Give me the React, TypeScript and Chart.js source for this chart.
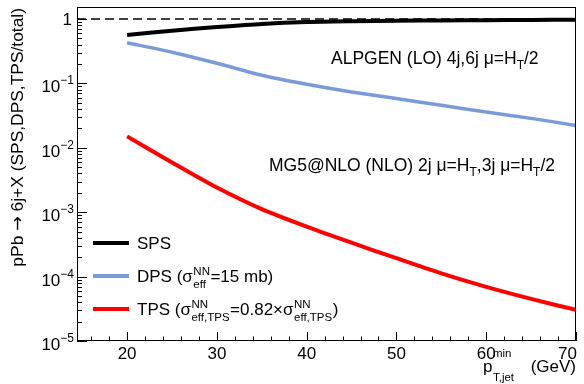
import React, { useEffect, useRef } from "react";
import { Chart, registerables } from "chart.js";

Chart.register(...registerables);

const xValues = [20, 25, 30, 35, 40, 45, 50, 55, 60, 65, 70];
const spsValues = [0.565, 0.66, 0.75, 0.84, 0.9, 0.925, 0.94, 0.953, 0.963, 0.971, 0.977];
const dpsValues = [0.428, 0.306, 0.206, 0.134, 0.0972, 0.0737, 0.0582, 0.0457, 0.036, 0.0287, 0.0223];
const tpsValues = [0.01506, 0.00593, 0.00242, 0.001117, 0.000597, 0.000336, 0.000193, 0.0001125, 0.0000693, 0.0000451, 0.0000304];
const refLineX = [14.42, 70];
const refLineY = [1, 1];

const xMajorTicks = [20, 30, 40, 50, 60, 70];
const yMajorTicks = [1, 0.1, 0.01, 0.001, 0.0001, 0.00001];
const yTickExponents = ["", "\u22121", "\u22122", "\u22123", "\u22124", "\u22125"];

const FONT = "'Liberation Sans', Arial, Helvetica, sans-serif";

type Part = { t: string; s: number; dy: number; f?: string };

function richWidth(ctx: CanvasRenderingContext2D, parts: Part[]) {
  let w = 0;
  for (const p of parts) {
    ctx.font = `${p.s}px ${p.f || FONT}`;
    w += ctx.measureText(p.t).width;
  }
  return w;
}

function drawRich(ctx: CanvasRenderingContext2D, x: number, y: number, parts: Part[], align: "left" | "right" | "center" = "left") {
  const w = richWidth(ctx, parts);
  let cx = align === "left" ? x : align === "right" ? x - w : x - w / 2;
  ctx.textAlign = "left";
  ctx.textBaseline = "alphabetic";
  for (const p of parts) {
    ctx.font = `${p.s}px ${p.f || FONT}`;
    ctx.fillText(p.t, cx, y + p.dy);
    cx += ctx.measureText(p.t).width;
  }
  return w;
}

const rootPlugin = {
  id: "rootStyle",
  afterDraw(chart: any) {
    const ctx: CanvasRenderingContext2D = chart.ctx;
    const a = chart.chartArea;
    const xs = chart.scales.x;
    const ys = chart.scales.y;
    ctx.save();
    ctx.fillStyle = "#000";
    ctx.strokeStyle = "#000";
    ctx.lineWidth = 1;
    // frame
    ctx.strokeRect(a.left + 0.5, a.top + 0.5, a.right - a.left - 1, a.bottom - a.top - 1);
    // x ticks
    ctx.beginPath();
    for (let v = 16; v <= 70; v += 2) {
      const px = Math.round(xs.getPixelForValue(v)) + 0.5;
      const major = v % 10 === 0;
      const len = major ? 9 : 4.5;
      ctx.moveTo(px, a.bottom);
      ctx.lineTo(px, a.bottom - len);
    }
    // y ticks
    for (let e = -5; e <= 0; e++) {
      for (let m = 1; m <= 9; m++) {
        const v = m * Math.pow(10, e);
        if (v > ys.max) continue;
        const py = Math.round(ys.getPixelForValue(v)) + 0.5;
        const len = m === 1 ? 10 : 5;
        ctx.moveTo(a.left, py);
        ctx.lineTo(a.left + len, py);
        if (e === 0) break;
      }
    }
    ctx.stroke();
    // x labels
    ctx.font = `17px ${FONT}`;
    for (const v of xMajorTicks) {
      const px = xs.getPixelForValue(v);
      const w = ctx.measureText(String(v)).width;
      let lx = px - w / 2;
      if (lx + w > 577) lx = 577 - w;
      ctx.textAlign = "left";
      ctx.textBaseline = "alphabetic";
      ctx.fillText(String(v), lx, 359);
    }
    // y labels
    yMajorTicks.forEach((v, i) => {
      const py = ys.getPixelForValue(v);
      if (yTickExponents[i] === "") {
        drawRich(ctx, 72, py + 6, [{ t: "1", s: 17, dy: 0 }], "right");
      } else {
        drawRich(ctx, 74, py + 9, [
          { t: "10", s: 17, dy: 0 },
          { t: yTickExponents[i], s: 12, dy: -8 },
        ], "right");
      }
    });
    // x title
    {
      ctx.font = `17px ${FONT}`;
      const pw = ctx.measureText("p").width;
      const startX = 483;
      drawRich(ctx, startX, 372, [{ t: "p", s: 17, dy: 0 }], "left");
      drawRich(ctx, startX + pw + 0.5, 357, [{ t: "min", s: 11.5, dy: 0 }], "left");
      drawRich(ctx, startX + pw + 0.5, 381, [{ t: "T,jet", s: 11.5, dy: 0 }], "left");
      drawRich(ctx, 576, 372, [{ t: "(GeV)", s: 17, dy: 0 }], "right");
    }
    // y title
    ctx.save();
    ctx.translate(23, 8);
    ctx.rotate(-Math.PI / 2);
    drawRich(ctx, 0, 0, [
      { t: "pPb ", s: 17.4, dy: 0 },
      { t: "\u2192", s: 17.4, dy: 0, f: "'DejaVu Sans', sans-serif" },
      { t: " 6j+X (SPS,DPS,TPS/total)", s: 17.4, dy: 0 },
    ], "right");
    ctx.restore();
    // annotations
    drawRich(ctx, 331, 64, [
      { t: "ALPGEN (LO) 4j,6j \u03bc=H", s: 17.5, dy: 0 },
      { t: "T", s: 12, dy: 5 },
      { t: "/2", s: 17.5, dy: 0 },
    ], "left");
    drawRich(ctx, 269, 171, [
      { t: "MG5@NLO (NLO) 2j \u03bc=H", s: 17.5, dy: 0 },
      { t: "T", s: 12, dy: 5 },
      { t: ",3j \u03bc=H", s: 17.5, dy: 0 },
      { t: "T", s: 12, dy: 5 },
      { t: "/2", s: 17.5, dy: 0 },
    ], "left");
    // legend
    const legend = [
      { color: "#000000", width: 4, y: 243 },
      { color: "#7b9bd8", width: 4, y: 276 },
      { color: "#ff0000", width: 4, y: 309 },
    ];
    for (const l of legend) {
      ctx.beginPath();
      ctx.strokeStyle = l.color;
      ctx.lineWidth = l.width;
      ctx.moveTo(93, l.y);
      ctx.lineTo(129, l.y);
      ctx.stroke();
    }
    ctx.fillStyle = "#000";
    drawRich(ctx, 137, 249, [{ t: "SPS", s: 17, dy: 0 }], "left");
    {
      const w1 = drawRich(ctx, 137, 282, [{ t: "DPS (\u03c3", s: 17, dy: 0 }], "left");
      const bx = 137 + w1 + 0.5;
      const wNN = drawRich(ctx, bx, 275, [{ t: "NN", s: 11.5, dy: 0 }], "left");
      const wEff = drawRich(ctx, bx, 288, [{ t: "eff", s: 11.5, dy: 0 }], "left");
      drawRich(ctx, bx + Math.max(wNN, wEff) + 0.5, 282, [{ t: "=15 mb)", s: 17, dy: 0 }], "left");
    }
    {
      const w1 = drawRich(ctx, 137, 315, [{ t: "TPS (\u03c3", s: 17, dy: 0 }], "left");
      let bx = 137 + w1 + 0.5;
      drawRich(ctx, bx, 308, [{ t: "NN", s: 11.5, dy: 0 }], "left");
      const wSub = drawRich(ctx, bx, 321, [{ t: "eff,TPS", s: 11.5, dy: 0 }], "left");
      bx += wSub + 0.5;
      const w2 = drawRich(ctx, bx, 315, [{ t: "=0.82\u00d7\u03c3", s: 17, dy: 0 }], "left");
      bx += w2 + 0.5;
      drawRich(ctx, bx, 308, [{ t: "NN", s: 11.5, dy: 0 }], "left");
      drawRich(ctx, bx, 321, [{ t: "eff,TPS", s: 11.5, dy: 0 }], "left");
      bx += wSub + 0.5;
      drawRich(ctx, bx, 315, [{ t: ")", s: 17, dy: 0 }], "left");
    }
    ctx.restore();
  },
};

export default function App() {
  const ref = useRef<HTMLCanvasElement>(null);
  useEffect(() => {
    if (!ref.current) return;
    const mk = (ys: number[]) => xValues.map((x, i) => ({ x, y: ys[i] }));
    const chart = new Chart(ref.current, {
      type: "line",
      data: {
        datasets: [
          {
            label: "ref",
            data: refLineX.map((x, i) => ({ x, y: refLineY[i] })),
            borderColor: "#000",
            borderWidth: 1.4,
            borderDash: [9, 5],
            pointRadius: 0,
            order: 4,
          },
          {
            label: "SPS",
            data: mk(spsValues),
            borderColor: "#000000",
            borderWidth: 4,
            pointRadius: 0,
            tension: 0.25,
            order: 1,
          },
          {
            label: "DPS",
            data: mk(dpsValues),
            borderColor: "#7b9bd8",
            borderWidth: 3.5,
            pointRadius: 0,
            tension: 0.25,
            order: 2,
          },
          {
            label: "TPS",
            data: mk(tpsValues),
            borderColor: "#ff0000",
            borderWidth: 4,
            pointRadius: 0,
            tension: 0.25,
            order: 3,
          },
        ],
      },
      options: {
        animation: false,
        responsive: false,
        layout: { padding: { left: 77, right: 8, top: 7, bottom: 43 } },
        plugins: { legend: { display: false }, tooltip: { enabled: false } },
        scales: {
          x: { type: "linear", min: 14.42, max: 70, display: false },
          y: { type: "logarithmic", min: 1e-5, max: 1.54, display: false },
        },
      },
      plugins: [rootPlugin],
    } as any);
    return () => chart.destroy();
  }, []);
  return (
    <div style={{ position: "fixed", left: 0, top: 0, width: 584, height: 384, background: "#fff" }}>
      <canvas ref={ref} width={584} height={384} style={{ display: "block" }} />
    </div>
  );
}
